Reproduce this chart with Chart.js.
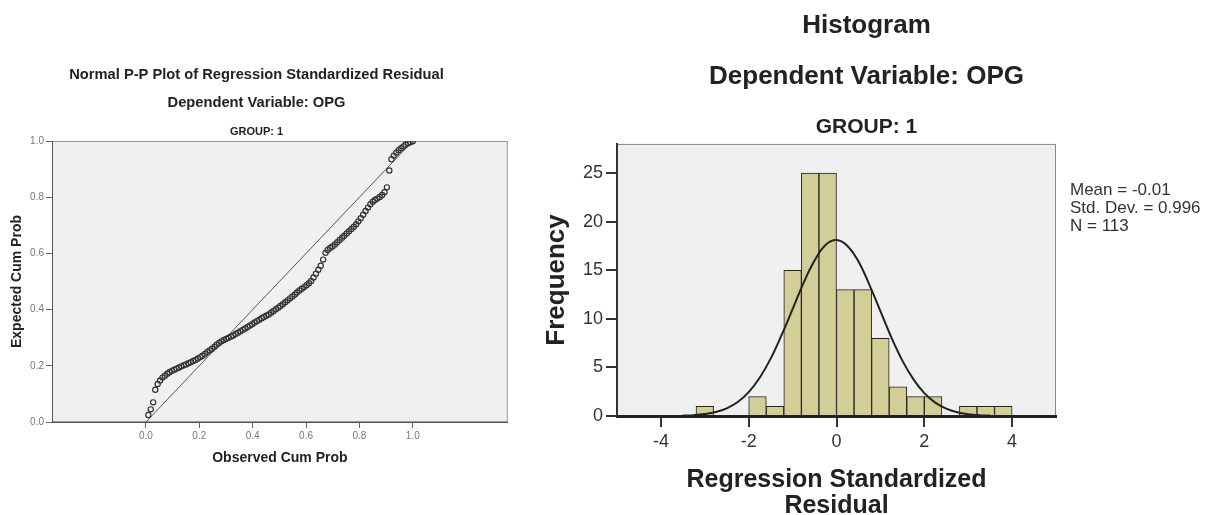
<!DOCTYPE html>
<html>
<head>
<meta charset="utf-8">
<script src="https://cdn.jsdelivr.net/npm/chart.js@4.4.1/dist/chart.umd.min.js"></script>
<style>
  body { margin: 0; background: #fff; width: 1216px; height: 515px; overflow: hidden; position: relative; }
  #ppWrap { position: absolute; left: 0; top: 0; }
  #histWrap { position: absolute; left: 517px; top: 0; }
</style>
</head>
<body>
<div id="ppWrap"><canvas id="ppChart" width="513" height="515"></canvas></div>
<div id="histWrap"><canvas id="histChart" width="699" height="515"></canvas></div>
<script>
// ---- P-P plot data ----
const observedCumProb = [
  0.009, 0.018, 0.027, 0.035, 0.044, 0.053, 0.062, 0.071, 0.080, 0.088,
  0.097, 0.106, 0.115, 0.124, 0.133, 0.142, 0.150, 0.159, 0.168, 0.177,
  0.186, 0.195, 0.204, 0.212, 0.221, 0.230, 0.239, 0.248, 0.257, 0.265,
  0.274, 0.283, 0.292, 0.301, 0.310, 0.319, 0.327, 0.336, 0.345, 0.354,
  0.363, 0.372, 0.381, 0.389, 0.398, 0.407, 0.416, 0.425, 0.434, 0.442,
  0.451, 0.460, 0.469, 0.478, 0.487, 0.496, 0.504, 0.513, 0.522, 0.531,
  0.540, 0.549, 0.558, 0.566, 0.575, 0.584, 0.593, 0.602, 0.611, 0.619,
  0.628, 0.637, 0.646, 0.655, 0.664, 0.673, 0.681, 0.690, 0.699, 0.708,
  0.717, 0.726, 0.735, 0.743, 0.752, 0.761, 0.770, 0.779, 0.788, 0.796,
  0.805, 0.814, 0.823, 0.832, 0.841, 0.850, 0.858, 0.867, 0.876, 0.885,
  0.894, 0.903, 0.912, 0.920, 0.929, 0.938, 0.947, 0.956, 0.965, 0.973,
  0.982, 0.991, 1.000,
];
const expectedCumProb = [
  0.025, 0.045, 0.070, 0.115, 0.135, 0.148, 0.158, 0.165, 0.172, 0.177,
  0.182, 0.186, 0.190, 0.194, 0.198, 0.202, 0.205, 0.209, 0.213, 0.217,
  0.221, 0.226, 0.231, 0.236, 0.242, 0.249, 0.255, 0.261, 0.268, 0.275,
  0.281, 0.287, 0.292, 0.296, 0.300, 0.304, 0.308, 0.313, 0.318, 0.323,
  0.328, 0.333, 0.338, 0.343, 0.348, 0.354, 0.359, 0.364, 0.369, 0.374,
  0.378, 0.383, 0.389, 0.395, 0.401, 0.407, 0.413, 0.419, 0.426, 0.433,
  0.440, 0.447, 0.454, 0.461, 0.468, 0.474, 0.480, 0.487, 0.494, 0.502,
  0.514, 0.528, 0.542, 0.556, 0.578, 0.602, 0.612, 0.619, 0.625, 0.632,
  0.640, 0.648, 0.656, 0.663, 0.671, 0.679, 0.687, 0.695, 0.704, 0.714,
  0.725, 0.738, 0.751, 0.763, 0.775, 0.784, 0.790, 0.795, 0.801, 0.808,
  0.818, 0.835, 0.895, 0.935, 0.948, 0.958, 0.967, 0.974, 0.981, 0.987,
  0.992, 0.996, 0.999,
];
const refLineX = [0, 1];
const refLineY = [0, 1];
const ppTicks = [0, 0.2, 0.4, 0.6, 0.8, 1.0];

// ---- Histogram data ----
const binCenters = [-3.0, -1.8, -1.4, -1.0, -0.6, -0.2, 0.2, 0.6, 1.0, 1.4, 1.8, 2.2, 3.0, 3.4, 3.8];
const binCounts = [1, 2, 1, 15, 25, 25, 13, 13, 8, 3, 2, 2, 1, 1, 1];
const curveX = [-3.5, -3.25, -3, -2.75, -2.5, -2.25, -2, -1.75, -1.5, -1.25, -1, -0.75, -0.5, -0.25,
  0, 0.25, 0.5, 0.75, 1, 1.25, 1.5, 1.75, 2, 2.25, 2.5, 2.75, 3, 3.25, 3.5];
const curveY = [0.04, 0.09, 0.2, 0.41, 0.79, 1.44, 2.46, 3.93, 5.9, 8.34, 11.0, 13.7, 16.0, 17.6,
  18.1, 17.5, 15.9, 13.5, 10.8, 8.08, 5.7, 3.8, 2.36, 1.38, 0.76, 0.39, 0.19, 0.08, 0.04];
const histXTicks = [-4, -2, 0, 2, 4];
const histYTicks = [0, 5, 10, 15, 20, 25];
const statsLines = ["Mean = -0.01", "Std. Dev. = 0.996", "N = 113"];

Chart.defaults.font.family = "'Liberation Sans', Arial, sans-serif";
Chart.defaults.color = "#222";
Chart.defaults.animation = false;

// grey plot background with a thin frame
const plotBox = {
  id: "plotBox",
  beforeDraw(chart, args, opts) {
    const { ctx, chartArea: a } = chart;
    ctx.save();
    ctx.fillStyle = opts.fill;
    ctx.fillRect(a.left, a.top, a.width, a.height);
    ctx.strokeStyle = opts.stroke;
    ctx.lineWidth = 1;
    ctx.strokeRect(a.left + 0.5, a.top + 0.5, a.width - 1, a.height - 1);
    ctx.restore();
  },
};

// Mean / Std. Dev. / N text to the right of the histogram
const statsText = {
  id: "statsText",
  afterDraw(chart, args, opts) {
    const { ctx } = chart;
    ctx.save();
    ctx.font = "17px 'Liberation Sans', Arial, sans-serif";
    ctx.fillStyle = "#333";
    ctx.textBaseline = "middle";
    statsLines.forEach((line, i) => {
      ctx.fillText(line, chart.chartArea.right + 14, opts.top + i * 18);
    });
    ctx.restore();
  },
};

function fixedTicks(list) {
  return (scale) => {
    scale.ticks = list.map((v) => ({ value: v }));
  };
}

// ---- Normal P-P plot ----
new Chart(document.getElementById("ppChart"), {
  type: "scatter",
  data: {
    datasets: [
      {
        data: observedCumProb.map((x, i) => ({ x, y: expectedCumProb[i] })),
        pointRadius: 2.6,
        pointBorderWidth: 1.2,
        borderColor: "#333",
        backgroundColor: "rgba(0,0,0,0)",
      },
      {
        data: refLineX.map((x, i) => ({ x, y: refLineY[i] })),
        showLine: true,
        pointRadius: 0,
        borderColor: "#555",
        borderWidth: 1,
      },
    ],
  },
  plugins: [plotBox],
  options: {
    responsive: false,
    layout: { padding: { top: 0, left: 0, right: 0, bottom: 0 } },
    plugins: {
      legend: { display: false },
      tooltip: { enabled: false },
      plotBox: { fill: "#f0f0f0", stroke: "#999" },
      title: {
        display: true,
        text: ["Normal P-P Plot of Regression Standardized Residual", "Dependent Variable: OPG"],
        font: { size: 14.7, weight: "bold", lineHeight: 1.905 },
        padding: { top: 61, bottom: 8 },
      },
      subtitle: {
        display: true,
        text: "GROUP: 1",
        font: { size: 11, weight: "bold" },
        padding: { top: 0, bottom: 2.8 },
      },
    },
    scales: {
      x: {
        type: "linear",
        min: -0.352,
        max: 1.356,
        afterBuildTicks: fixedTicks(ppTicks),
        afterFit: (s) => { s.height = 93; },
        grid: { drawOnChartArea: false, tickLength: 6, color: "#666" },
        border: { color: "#555", width: 1 },
        ticks: { padding: 2, color: "#777", font: { size: 10 }, callback: (v) => v.toFixed(1) },
        title: {
          display: true,
          text: "Observed Cum Prob",
          font: { size: 14, weight: "bold" },
          padding: { top: 0, bottom: 48.6 },
        },
      },
      y: {
        min: 0,
        max: 1,
        afterBuildTicks: fixedTicks(ppTicks),
        afterFit: (s) => { s.width = 52; },
        grid: { drawOnChartArea: false, tickLength: 6, color: "#666" },
        border: { color: "#555", width: 1 },
        ticks: { padding: 2, color: "#777", font: { size: 10 }, callback: (v) => v.toFixed(1) },
        title: {
          display: true,
          text: "Expected Cum Prob",
          font: { size: 14, weight: "bold" },
          padding: { top: 8.6, bottom: 0 },
        },
      },
    },
  },
});

// ---- Histogram ----
new Chart(document.getElementById("histChart"), {
  type: "bar",
  data: {
    datasets: [
      {
        type: "line",
        data: curveX.map((x, i) => ({ x, y: curveY[i] })),
        borderColor: "#222",
        borderWidth: 2,
        pointRadius: 0,
        tension: 0.4,
      },
      {
        data: binCenters.map((x, i) => ({ x, y: binCounts[i] })),
        backgroundColor: "#d3ce97",
        borderColor: "#222",
        borderWidth: 1,
        barPercentage: 1,
        categoryPercentage: 1,
      },
    ],
  },
  plugins: [plotBox, statsText],
  options: {
    responsive: false,
    layout: { padding: 0 },
    plugins: {
      legend: { display: false },
      tooltip: { enabled: false },
      plotBox: { fill: "#f0f0f0", stroke: "#888" },
      statsText: { top: 190 },
      title: {
        display: true,
        text: ["Histogram", "Dependent Variable: OPG"],
        font: { size: 26, weight: "bold", lineHeight: 1.96 },
        padding: { top: 0, bottom: 13 },
      },
      subtitle: {
        display: true,
        text: "GROUP: 1",
        color: "#222",
        font: { size: 21, weight: "bold" },
        padding: { top: 0, bottom: 3.8 },
      },
    },
    scales: {
      x: {
        type: "linear",
        min: -5,
        max: 5,
        offset: false,
        afterBuildTicks: fixedTicks(histXTicks),
        afterFit: (s) => { s.height = 99; },
        grid: { offset: false, drawOnChartArea: false, tickLength: 11, color: "#333", lineWidth: 2 },
        border: { color: "#222", width: 3 },
        ticks: { padding: 4, color: "#333", font: { size: 18 } },
        title: {
          display: true,
          text: ["Regression Standardized", "Residual"],
          font: { size: 25, weight: "bold", lineHeight: 1.04 },
          padding: { top: 0, bottom: -4 },
        },
      },
      y: {
        min: 0,
        max: 28,
        afterBuildTicks: fixedTicks(histYTicks),
        afterFit: (s) => { s.width = 100; },
        grid: { drawOnChartArea: false, tickLength: 11, color: "#333", lineWidth: 2 },
        border: { color: "#333", width: 2 },
        ticks: { padding: 3, color: "#333", font: { size: 18 } },
        title: {
          display: true,
          text: "Frequency",
          font: { size: 26, weight: "bold" },
          padding: { top: 24.4, bottom: 0 },
        },
      },
      // empty right-hand axis that only reserves room for the stats text
      yRight: {
        position: "right",
        afterFit: (s) => { s.width = 160; },
        grid: { display: false },
        border: { display: false },
        ticks: { display: false },
      },
    },
  },
});
</script>
</body>
</html>
